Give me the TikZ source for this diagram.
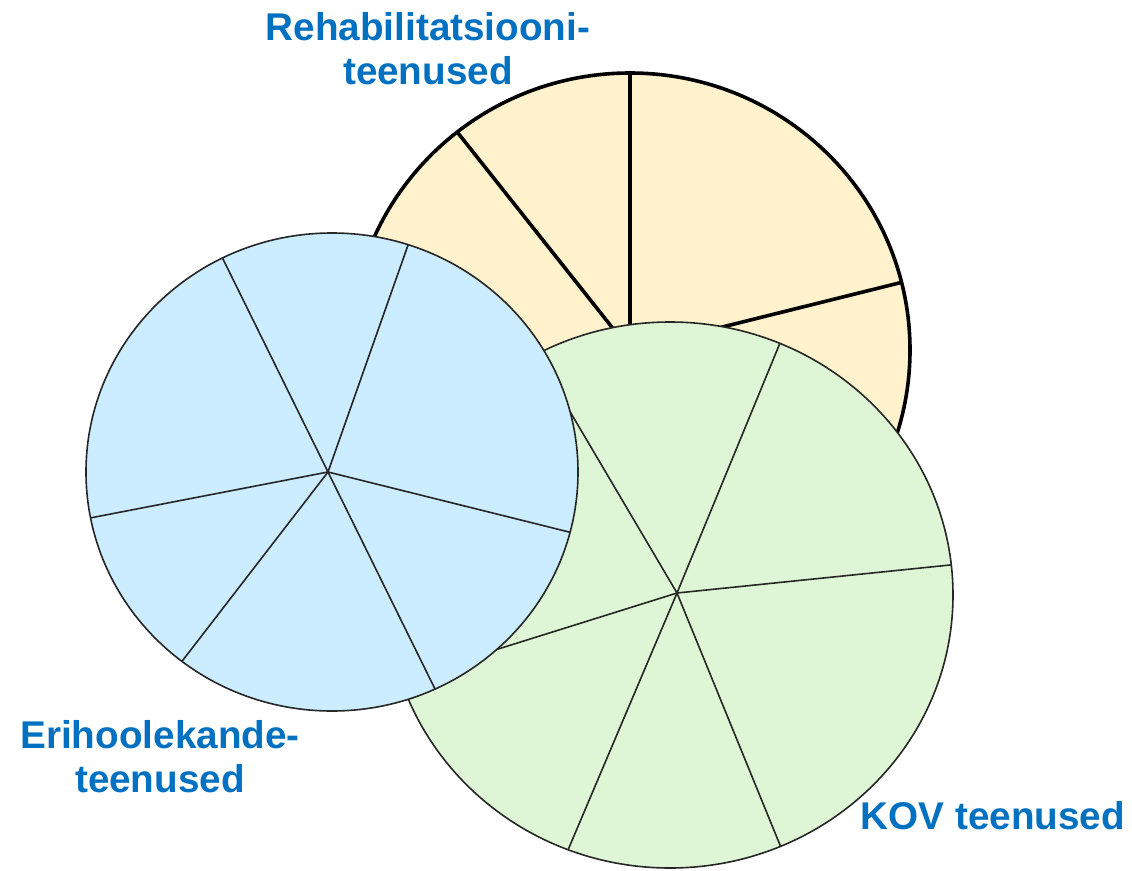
\documentclass[tikz,border=0pt]{standalone}
\usepackage{fontspec}
\setmainfont{Liberation Sans}
\usetikzlibrary{calc}
\definecolor{yfill}{RGB}{255,242,204}
\definecolor{bfill}{RGB}{204,236,255}
\definecolor{gfill}{RGB}{222,246,214}
\definecolor{lbl}{RGB}{0,112,192}
\tikzset{
  thickedge/.style={draw=black,line width=2.7pt},
  thinedge/.style={draw=black!85,line width=1.2pt},
  label/.style={text=lbl,font=\bfseries\fontsize{29}{33}\selectfont,align=center,inner sep=0pt}
}
\begin{document}
\begin{tikzpicture}[x=0.75pt,y=-0.75pt]
\useasboundingbox (0,0) rectangle (1132,871);
% yellow pie
\coordinate (yc) at (630,350);
\fill[yfill] (yc) ellipse [x radius=210pt, y radius=207.75pt];
\begin{scope}
  \clip (yc) ellipse [x radius=210pt, y radius=207.75pt];
  \foreach \px/\py in {630/73,458/133,899/283}
    \draw[thickedge] (yc) -- ($(yc)!2!(\px,\py)$);
\end{scope}
\draw[thickedge] (yc) ellipse [x radius=210pt, y radius=207.75pt];
% green pie
\coordinate (gc) at (670,595);
\coordinate (gs) at (677,593);
\fill[gfill] (gc) ellipse [x radius=212.25pt, y radius=204.75pt];
\begin{scope}
  \clip (gc) ellipse [x radius=212.25pt, y radius=204.75pt];
  \foreach \px/\py in {780/343,950/565,780/845,568/850,495/650,572/415}
    \draw[thinedge] (gs) -- ($(gs)!2!(\px,\py)$);
\end{scope}
\draw[thinedge] (gc) ellipse [x radius=212.25pt, y radius=204.75pt];
% blue pie
\coordinate (bc) at (332,472);
\coordinate (bs) at (328,472);
\fill[bfill] (bc) ellipse [x radius=184.5pt, y radius=179.25pt];
\begin{scope}
  \clip (bc) ellipse [x radius=184.5pt, y radius=179.25pt];
  \foreach \px/\py in {222/257,407/248,569/532,435/689,183/660,90/518}
    \draw[thinedge] (bs) -- ($(bs)!2!(\px,\py)$);
\end{scope}
\draw[thinedge] (bc) ellipse [x radius=184.5pt, y radius=179.25pt];
% labels
\node[label] (rehab) at (428,49) {Rehabilitatsiooni-\\teenused};
\node[label] (eri) at (160,757) {Erihoolekande-\\teenused};
\node[label] (kov) at (993,816) {KOV teenused};
\end{tikzpicture}
\end{document}
